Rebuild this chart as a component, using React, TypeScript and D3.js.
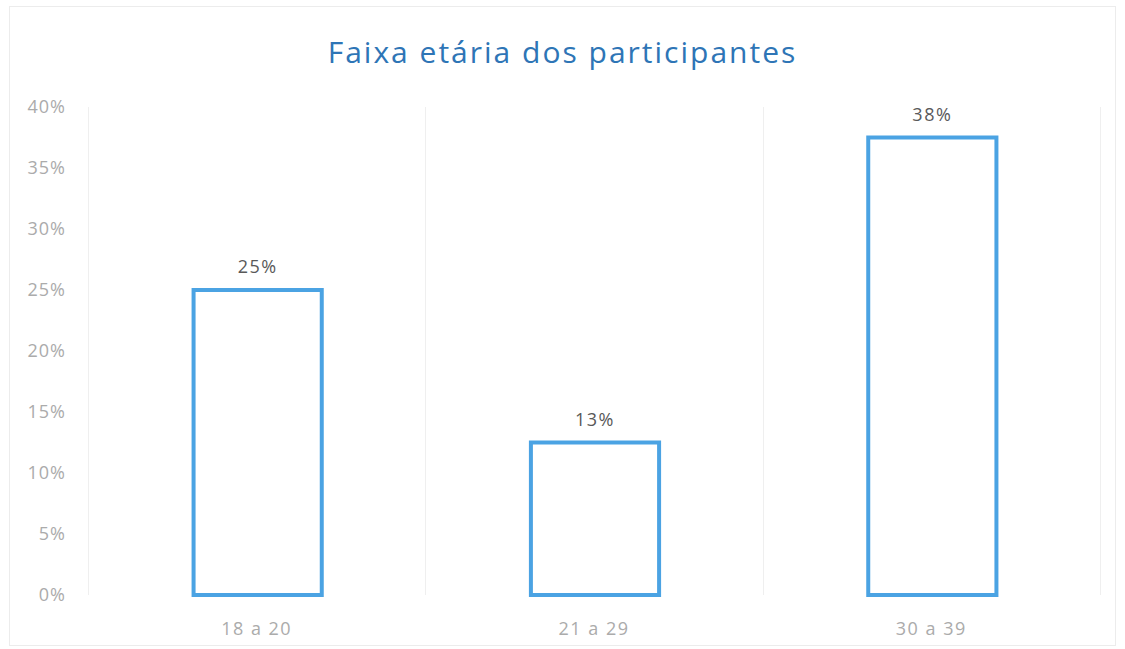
import { useEffect, useRef } from 'react'
import * as d3 from 'd3'

const categorias = ['18 a 20', '21 a 29', '30 a 39']
const valores = [0.25, 0.125, 0.375]
const ticksY = [0, 0.05, 0.1, 0.15, 0.2, 0.25, 0.3, 0.35, 0.4]
const titulo = 'Faixa etária dos participantes'

function App() {
  const svgRef = useRef<SVGSVGElement>(null)

  useEffect(() => {
    const width = 1125
    const height = 649
    const margin = { top: 107, right: 25, bottom: 54, left: 88 }

    const svg = d3.select(svgRef.current)
    svg.selectAll('*').remove()
    svg.attr('width', width).attr('height', height)

    // fundo e borda do gráfico
    svg.append('rect')
      .attr('x', 0).attr('y', 0)
      .attr('width', width).attr('height', height)
      .attr('fill', '#fff')

    svg.append('rect')
      .attr('x', 9.5).attr('y', 6.5)
      .attr('width', width - 19).attr('height', height - 10)
      .attr('fill', 'none')
      .attr('stroke', '#ececec')
      .attr('stroke-width', 1)

    const x = d3.scaleBand()
      .domain(categorias)
      .range([margin.left, width - margin.right])
      .padding(0)

    const y = d3.scaleLinear()
      .domain([0, 0.4])
      .range([height - margin.bottom, margin.top])

    // linhas verticais entre categorias
    const limites = [...categorias.map(c => x(c)!), x.range()[1]]
    svg.append('g')
      .selectAll('line')
      .data(limites)
      .enter()
      .append('line')
      .attr('x1', d => Math.round(d) + 0.5)
      .attr('x2', d => Math.round(d) + 0.5)
      .attr('y1', y(0.4))
      .attr('y2', y(0))
      .attr('stroke', '#efefef')
      .attr('stroke-width', 1)

    // título
    svg.append('text')
      .attr('x', width / 2)
      .attr('y', 63)
      .attr('fill', '#2e75b6')
      .style('font-family', '"Open Sans", sans-serif')
      .style('font-size', '30px')
      .style('letter-spacing', '2px')
      .style('text-anchor', 'middle')
      .text(titulo)

    // eixo Y (só rótulos)
    svg.append('g')
      .selectAll('text')
      .data(ticksY)
      .enter()
      .append('text')
      .attr('x', 66)
      .attr('y', d => y(d))
      .attr('dy', '0.35em')
      .attr('fill', '#ababab')
      .style('font-family', '"Open Sans", sans-serif')
      .style('font-size', '18px')
      .style('letter-spacing', '1px')
      .style('text-anchor', 'end')
      .text(d => d3.format('.0%')(d))

    // eixo X (só rótulos)
    svg.append('g')
      .selectAll('text')
      .data(categorias)
      .enter()
      .append('text')
      .attr('x', d => x(d)! + x.bandwidth() / 2)
      .attr('y', y(0) + 40)
      .attr('fill', '#ababab')
      .style('font-family', '"Open Sans", sans-serif')
      .style('font-size', '18px')
      .style('letter-spacing', '1.5px')
      .style('text-anchor', 'middle')
      .text(d => d)

    const larguraBarra = x.bandwidth() * 0.38

    // barras (só contorno)
    svg.append('g')
      .selectAll('rect')
      .data(valores)
      .enter()
      .append('rect')
      .attr('x', (d, i) => x(categorias[i])! + (x.bandwidth() - larguraBarra) / 2 + 1)
      .attr('y', d => y(d))
      .attr('width', larguraBarra)
      .attr('height', d => y(0) - y(d))
      .attr('fill', '#fff')
      .attr('stroke', '#4ba3e3')
      .attr('stroke-width', 4)

    // rótulos de valor
    svg.append('g')
      .selectAll('text')
      .data(valores)
      .enter()
      .append('text')
      .attr('x', (d, i) => x(categorias[i])! + x.bandwidth() / 2 + 1)
      .attr('y', d => y(d) - 17)
      .attr('fill', '#595959')
      .style('font-family', '"Open Sans", sans-serif')
      .style('font-size', '18px')
      .style('letter-spacing', '1.5px')
      .style('text-anchor', 'middle')
      .text(d => Math.round(d * 100) + '%')
  }, [])

  return (
    <div style={{ position: 'absolute', left: 0, top: 0 }}>
      <svg ref={svgRef} style={{ display: 'block' }}></svg>
    </div>
  )
}

export default App
